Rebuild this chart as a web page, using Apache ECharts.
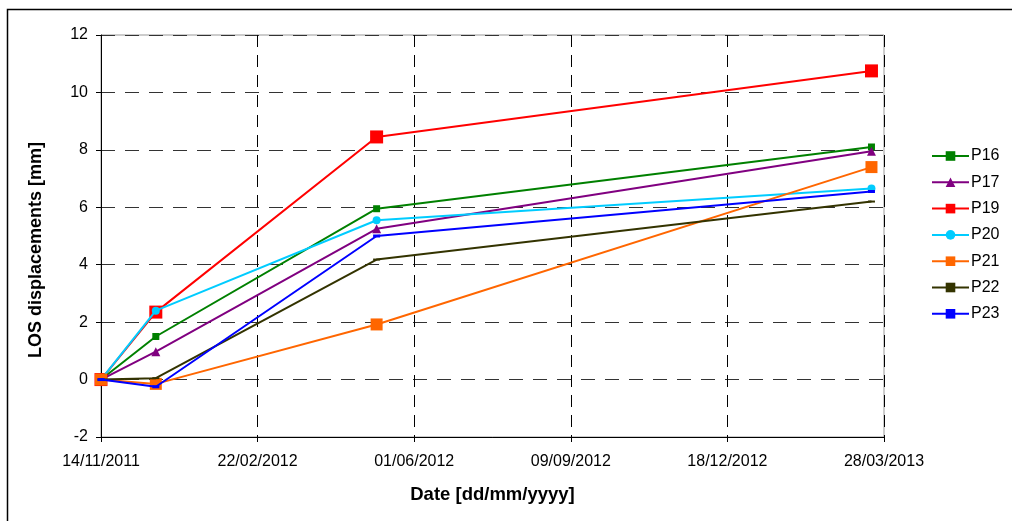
<!DOCTYPE html>
<html>
<head>
<meta charset="utf-8">
<script src="https://cdn.jsdelivr.net/npm/echarts@6/dist/echarts.min.js"></script>
<style>
  html, body { margin: 0; padding: 0; background: #fff; }
  #chartDiv { width: 1012px; height: 521px; }
</style>
</head>
<body>
<div id="chartDiv"></div>
<script>
// 数据
var dates = ['14/11/2011', '19/12/2011', '08/05/2012', '20/03/2013'];
var names = ['P16', 'P17', 'P19', 'P20', 'P21', 'P22', 'P23'];
var p16 = [0, 1.5, 5.95, 8.1];
var p17 = [0, 0.97, 5.25, 7.95];
var p19 = [0, 2.35, 8.45, 10.75];
var p20 = [0, 2.4, 5.55, 6.65];
var p21 = [0, -0.15, 1.92, 7.4];
var p22 = [0, 0.05, 4.18, 6.2];
var p23 = [0, -0.25, 5.0, 6.55];
var xTicks = ['14/11/2011', '22/02/2012', '01/06/2012', '09/09/2012', '18/12/2012', '28/03/2013'];

// 日期 -> 距起始日的天数
function toDate(s) {
    var p = s.split('/');
    return Date.UTC(+p[2], +p[1] - 1, +p[0]);
}
var origin = toDate(xTicks[0]);
function toDays(s) { return Math.round((toDate(s) - origin) / 86400000); }
function fmt(days) {
    var d = new Date(origin + days * 86400000);
    var dd = ('0' + d.getUTCDate()).slice(-2);
    var mm = ('0' + (d.getUTCMonth() + 1)).slice(-2);
    return dd + '/' + mm + '/' + d.getUTCFullYear();
}
function pts(vals) {
    return vals.map(function (v, i) { return [toDays(dates[i]), v]; });
}

var styles = {
    P16: { color: '#008000', symbol: 'rect', size: 7 },
    P17: { color: '#800080', symbol: 'triangle', size: 9 },
    P19: { color: '#ff0000', symbol: 'rect', size: 13 },
    P20: { color: '#00ccff', symbol: 'circle', size: 8 },
    P21: { color: '#ff6600', symbol: 'rect', size: 12 },
    P22: { color: '#333300', symbol: 'rect', size: [7, 2] },
    P23: { color: '#0000ff', symbol: 'rect', size: [7, 3] }
};
var values = [p16, p17, p19, p20, p21, p22, p23];

var chart = echarts.init(document.getElementById('chartDiv'));

var option = {
    animation: false,
    textStyle: { fontFamily: 'Liberation Sans, Arial, sans-serif' },
    graphic: [{
        type: 'rect',
        shape: { x: 7.5, y: 9.5, width: 1010, height: 520 },
        style: { fill: 'none', stroke: '#000', lineWidth: 1.5 },
        silent: true
    }],
    grid: {
        left: 101, right: 128, top: 35, bottom: 84,
        show: true, borderColor: '#999', borderWidth: 1
    },
    legend: {
        orient: 'vertical',
        left: 931, top: 148, padding: 0,
        itemWidth: 37, itemHeight: 12, itemGap: 10.3,
        textStyle: { fontSize: 16, lineHeight: 16, color: '#000', padding: [0, 0, 0, -3] },
        data: names
    },
    xAxis: {
        type: 'value',
        min: 0, max: 500, interval: 100,
        name: 'Date [dd/mm/yyyy]',
        nameLocation: 'middle', nameGap: 48,
        nameTextStyle: { fontSize: 18.5, fontWeight: 'bold', color: '#000' },
        axisLine: { onZero: false, lineStyle: { color: '#000', width: 1 } },
        axisTick: { show: true, length: 5, lineStyle: { color: '#000' } },
        axisLabel: {
            fontSize: 16, color: '#000', margin: 17,
            formatter: function (v) { return fmt(v); }
        },
        splitLine: { show: true, lineStyle: { color: '#000', type: [12, 8], width: 1 } }
    },
    yAxis: {
        type: 'value',
        min: -2, max: 12, interval: 2,
        name: 'LOS displacements [mm]',
        nameLocation: 'middle', nameGap: 56,
        nameTextStyle: { fontSize: 18, fontWeight: 'bold', color: '#000', padding: [0, 28, 0, 0] },
        axisLine: { show: true, lineStyle: { color: '#000', width: 1 } },
        axisTick: { show: true, length: 5, lineStyle: { color: '#000' } },
        axisLabel: { fontSize: 16, color: '#000', margin: 13 },
        splitLine: { show: true, lineStyle: { color: '#333', type: [14, 10], width: 1 } }
    },
    series: names.map(function (n, i) {
        var s = styles[n];
        return {
            name: n,
            type: 'line',
            data: pts(values[i]),
            symbol: s.symbol,
            symbolSize: s.size,
            showAllSymbol: true,
            z: 2 + i,
            itemStyle: { color: s.color, opacity: 1 },
            lineStyle: { color: s.color, width: 2 },
            emphasis: { disabled: true }
        };
    })
};

chart.setOption(option);
</script>
</body>
</html>
